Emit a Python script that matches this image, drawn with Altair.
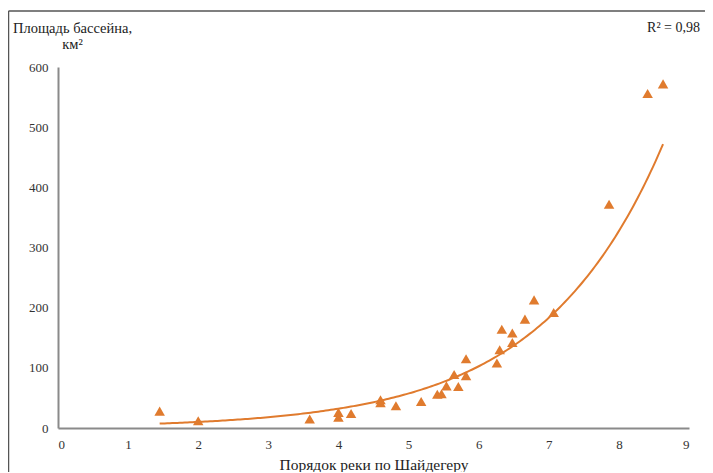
import altair as alt
import numpy as np
import pandas as pd

# Data
river_order = [1.45, 2.0, 3.59, 4.0, 4.0, 4.18, 4.6, 4.6, 4.82, 5.18,
               5.41, 5.47, 5.54, 5.65, 5.71, 5.82, 5.82, 6.26, 6.30, 6.33,
               6.48, 6.48, 6.66, 6.79, 7.07, 7.86, 8.41, 8.63]
basin_area = [28, 12, 15, 18, 26, 24, 47, 42, 37, 44,
              56, 57, 70, 89, 69, 87, 115, 108, 130, 164,
              158, 142, 181, 213, 192, 372, 556, 572]
x_ticks = [0, 1, 2, 3, 4, 5, 6, 7, 8, 9]
y_ticks = [0, 100, 200, 300, 400, 500, 600]
r2_label = "R² = 0,98"
x_title = "Порядок реки по Шайдегеру"
y_title = ["Площадь бассейна,", "км²"]

ORANGE = "#E07B2E"
SERIF = "Liberation Serif"

df = pd.DataFrame({"order": river_order, "area": basin_area})

# Exponential trendline (least squares on ln(y), as a spreadsheet does)
b, ln_a = np.polyfit(np.array(river_order), np.log(np.array(basin_area)), 1)
a = float(np.exp(ln_a))
b = float(b)
xmin, xmax = min(river_order), max(river_order)

xscale = alt.Scale(domain=[0, 9], nice=False)
yscale = alt.Scale(domain=[0, 600], nice=False)

points = alt.Chart(df).mark_point(
    shape="triangle-up", filled=True, size=110, color=ORANGE, opacity=1
).encode(
    x=alt.X("order:Q", scale=xscale,
            axis=alt.Axis(values=x_ticks, title=x_title, titleFontSize=15.5,
                          titlePadding=6, format="d")),
    y=alt.Y("area:Q", scale=yscale,
            axis=alt.Axis(values=y_ticks, title=y_title, titleAngle=0,
                          titleAlign="center", titleBaseline="alphabetic",
                          titleX=14, titleY=-35, titleFontSize=14.5,
                          titleLineHeight=16, format="d")),
)

trend = alt.Chart(alt.sequence(0, 1.0001, 0.005, as_="t")).transform_calculate(
    order=f"{xmin} + datum.t * {xmax - xmin}",
).transform_calculate(
    area=f"{a} * exp({b} * datum.order)"
).mark_line(color=ORANGE, strokeWidth=2).encode(
    x=alt.X("order:Q", scale=xscale),
    y=alt.Y("area:Q", scale=yscale),
)

r2 = alt.Chart(pd.DataFrame({"label": [r2_label]})).mark_text(
    align="right", baseline="middle", font=SERIF, fontSize=14, color="#222"
).encode(text="label:N", x=alt.value(642), y=alt.value(-39))

frame_top = alt.Chart(pd.DataFrame({"k": [0]})).mark_rule(
    color="#555", strokeWidth=1.5
).encode(x=alt.value(-49.5), x2=alt.value(660), y=alt.value(-56))
frame_left = alt.Chart(pd.DataFrame({"k": [0]})).mark_rule(
    color="#555", strokeWidth=1.5
).encode(x=alt.value(-49.5), y=alt.value(-56), y2=alt.value(420))

chart = alt.layer(frame_top, frame_left, trend, points, r2).properties(
    width=631, height=361,
    autosize=alt.AutoSizeParams(type="none"),
    padding={"left": 50, "top": 59, "right": 16, "bottom": 44},
).configure_view(stroke=None).configure_axis(
    domainColor="#8a8a8a", domainWidth=2, ticks=False, grid=False,
    labelFont=SERIF, labelFontSize=13, labelColor="#333", labelPadding=10,
    titleFont=SERIF, titleColor="#222", titleFontWeight="normal",
)

chart.save("out.html", embed_options={"renderer": "svg", "actions": False})
